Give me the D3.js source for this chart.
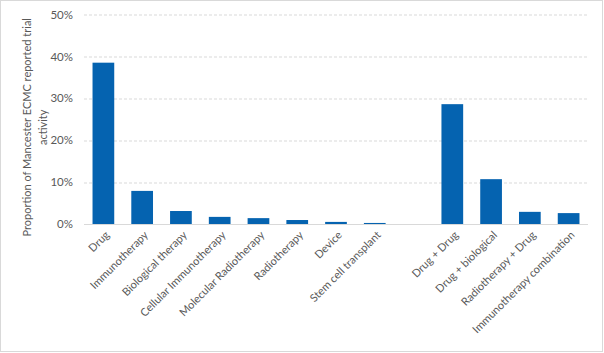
<!DOCTYPE html>
<html>
<head>
<meta charset="utf-8">
<script src="https://cdn.jsdelivr.net/npm/d3@7"></script>
<style>
  body { margin: 0; background: #fff; }
  text { font-family: Lato, "Open Sans", sans-serif; fill: #595959; }
</style>
</head>
<body>
<div id="chart"></div>
<script>
// categories, with an empty slot between single and combined interventions
const categories = ["Drug", "Immunotherapy", "Biological therapy", "Cellular Immunotherapy",
  "Molecular Radiotherapy", "Radiotherapy", "Device", "Stem cell transplant", "",
  "Drug + Drug", "Drug + biological", "Radiotherapy + Drug", "Immunotherapy combination"];
const values = [0.385, 0.079, 0.031, 0.017, 0.014, 0.0095, 0.005, 0.0025, null,
  0.286, 0.107, 0.029, 0.026];
const yTicks = [0, 0.1, 0.2, 0.3, 0.4, 0.5];

const W = 604, H = 353;
const margin = { top: 14.5, right: 16, bottom: 129, left: 84 };
const width = W - margin.left - margin.right;
const height = H - margin.top - margin.bottom;

const root = d3.select("#chart").append("svg")
    .attr("width", W)
    .attr("height", H);

// outer chart border
root.append("rect")
    .attr("x", 0.5).attr("y", 0.5)
    .attr("width", W - 2).attr("height", H - 2)
    .attr("fill", "#fff")
    .attr("stroke", "#d9d9d9");

const svg = root.append("g")
    .attr("transform", `translate(${margin.left},${margin.top})`);

const x = d3.scaleBand()
    .domain(d3.range(categories.length))
    .range([0, width])
    .paddingInner(0.44)
    .paddingOuter(0.22);

const y = d3.scaleLinear()
    .domain([0, 0.5])
    .range([height, 0]);

// gridlines
svg.append("g")
    .selectAll("line")
    .data(yTicks.slice(1))
    .enter()
    .append("line")
    .attr("x1", 0).attr("x2", width)
    .attr("y1", d => Math.round(y(d)) + 0.5)
    .attr("y2", d => Math.round(y(d)) + 0.5)
    .attr("stroke", "#d9d9d9")
    .attr("stroke-dasharray", "3,2");

// y axis labels
const yAxis = d3.axisLeft(y)
    .tickValues(yTicks)
    .tickFormat(d3.format(".0%"))
    .tickSize(0)
    .tickPadding(11);

svg.append("g")
    .call(yAxis)
    .call(g => g.select(".domain").remove())
    .selectAll("text")
    .style("font-family", "Lato, sans-serif")
    .style("font-size", "11.5px")
    .attr("fill", "#595959");

// bars
svg.selectAll(".bar")
    .data(values.map((v, i) => ({ v, i })).filter(d => d.v !== null))
    .enter()
    .append("rect")
    .attr("class", "bar")
    .attr("x", d => x(d.i))
    .attr("width", x.bandwidth())
    .attr("y", d => y(d.v))
    .attr("height", d => height - y(d.v))
    .attr("fill", "#0563b0");

// baseline
svg.append("line")
    .attr("x1", 0).attr("x2", width)
    .attr("y1", height + 0.5).attr("y2", height + 0.5)
    .attr("stroke", "#d9d9d9");

// category labels, rotated
svg.append("g")
    .selectAll("text")
    .data(categories.map((c, i) => ({ c, i })).filter(d => d.c))
    .enter()
    .append("text")
    .attr("transform", d => `translate(${x(d.i) + x.bandwidth() / 2 + 4},${height + 9}) rotate(-45)`)
    .attr("text-anchor", "end")
    .attr("dy", "0.35em")
    .style("font-size", "11px")
    .text(d => d.c);

// y axis title
const title = root.append("text")
    .attr("transform", `translate(27,${margin.top + height / 2 + 8}) rotate(-90)`)
    .attr("text-anchor", "middle")
    .style("font-size", "11px");
title.append("tspan").attr("x", 0).attr("dy", "0.35em").text("Proportion of Mancester ECMC reported trial");
title.append("tspan").attr("x", 0).attr("dy", "16px").text("activity");
</script>
</body>
</html>
